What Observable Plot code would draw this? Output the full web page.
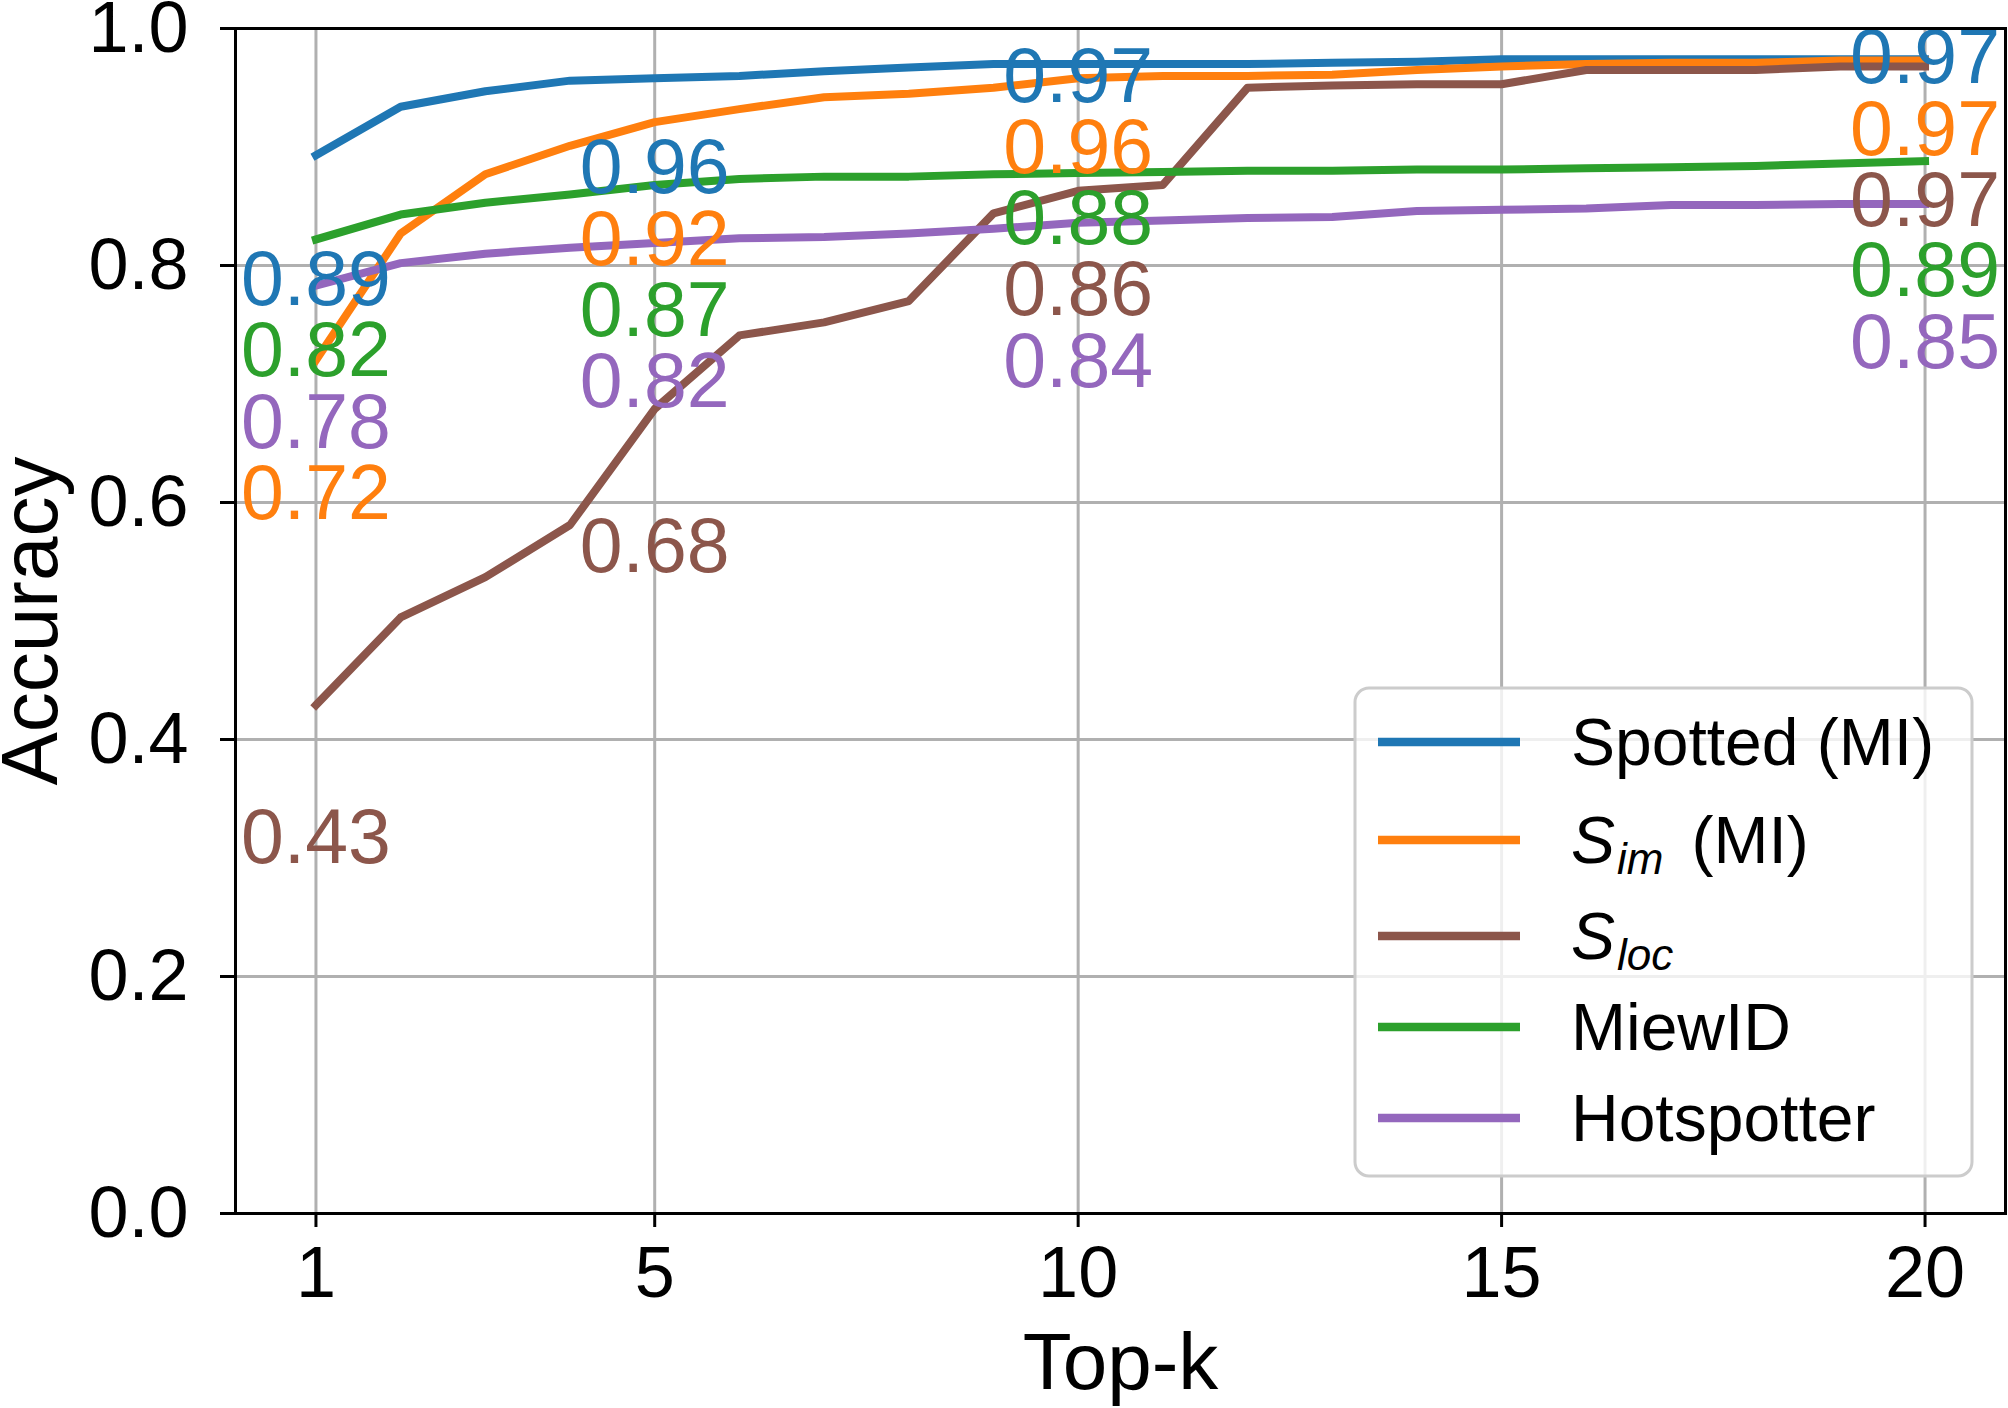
<!DOCTYPE html>
<html>
<head>
<meta charset="utf-8">
<script src="https://cdn.jsdelivr.net/npm/d3@7"></script>
<script src="https://cdn.jsdelivr.net/npm/@observablehq/plot@0.6"></script>
<style>
  html, body { margin: 0; padding: 0; background: #fff; }
  #chart { position: relative; width: 2008px; height: 1408px; }
</style>
</head>
<body>
<div id="chart"></div>
<script>
// Top-k re-identification accuracy for five matchers
const topK = [1, 2, 3, 4, 5, 6, 7, 8, 9, 10, 11, 12, 13, 14, 15, 16, 17, 18, 19, 20];

const spotted    = [0.893, 0.934, 0.947, 0.956, 0.958, 0.960, 0.964, 0.967, 0.970, 0.970,
                    0.970, 0.970, 0.971, 0.972, 0.974, 0.974, 0.974, 0.974, 0.974, 0.974];
const sIm        = [0.720, 0.827, 0.877, 0.901, 0.921, 0.932, 0.942, 0.945, 0.950, 0.958,
                    0.960, 0.960, 0.961, 0.965, 0.968, 0.970, 0.971, 0.971, 0.973, 0.973];
const sLoc       = [0.429, 0.503, 0.537, 0.581, 0.679, 0.741, 0.752, 0.770, 0.844, 0.863,
                    0.868, 0.950, 0.952, 0.953, 0.953, 0.965, 0.965, 0.965, 0.968, 0.968];
const miewID     = [0.822, 0.843, 0.853, 0.860, 0.868, 0.873, 0.875, 0.875, 0.877, 0.878,
                    0.879, 0.880, 0.880, 0.881, 0.881, 0.882, 0.883, 0.884, 0.886, 0.888];
const hotspotter = [0.783, 0.802, 0.810, 0.815, 0.819, 0.823, 0.824, 0.827, 0.831, 0.836,
                    0.838, 0.840, 0.841, 0.846, 0.847, 0.848, 0.851, 0.851, 0.852, 0.852];

const seriesNames  = ["Spotted (MI)", "S_im (MI)", "S_loc", "MiewID", "Hotspotter"];
const seriesValues = [spotted, sIm, sLoc, miewID, hotspotter];
const seriesColors = ["#1f77b4", "#ff7f0e", "#8c564b", "#2ca02c", "#9467bd"];

// k values that carry a value annotation
const labelledK = [1, 5, 10, 20];
const xTicks = [1, 5, 10, 15, 20];
const yTicks = [0, 0.2, 0.4, 0.6, 0.8, 1.0];

// Vertical pixel shift of each annotation below its point (per series, per labelled k)
const labelShift = [
  [125, 90, 13, -1],
  [134, 118, 70, 70],
  [133, 138, 100, 135],
  [112, 126, 46, 110],
  [138, 139, 140, 139]
];

// Long-format rows for the line mark
const rows = seriesNames.flatMap((name, i) =>
  topK.map((k, j) => ({ series: name, k, acc: seriesValues[i][j] })));

// Annotation marks, one per label (each has its own offset)
const fmt = d3.format(".2f");
const labelMarks = seriesNames.flatMap((name, i) =>
  labelledK.map((k, j) => {
    const acc = seriesValues[i][topK.indexOf(k)];
    return Plot.text([{ series: name, k, acc }], {
      x: "k", y: "acc", text: d => fmt(d.acc), fill: "series",
      fontSize: 77, textAnchor: "middle", lineAnchor: "middle",
      dy: labelShift[i][j]
    });
  }));

const plot = Plot.plot({
  width: 2008,
  height: 1408,
  marginLeft: 235,
  marginRight: 3,
  marginTop: 28,
  marginBottom: 195,
  style: { fontFamily: "'Liberation Sans', Arial, sans-serif", background: "#fff", overflow: "visible" },
  x: { domain: [0.05, 20.95] },
  y: { domain: [0, 1] },
  color: { domain: seriesNames, range: seriesColors },
  marks: [
    Plot.gridX(xTicks, { stroke: "#b0b0b0", strokeOpacity: 1, strokeWidth: 3 }),
    Plot.gridY(yTicks, { stroke: "#b0b0b0", strokeOpacity: 1, strokeWidth: 3 }),
    Plot.line(rows, { x: "k", y: "acc", z: "series", stroke: "series", strokeWidth: 8,
                      strokeLinecap: "square", strokeLinejoin: "round" }),
    ...labelMarks,
    Plot.frame({ stroke: "#000", strokeWidth: 3 }),
    Plot.axisX({ ticks: xTicks, tickFormat: d => String(d), tickSize: 14, tickPadding: 18,
                 strokeWidth: 3, fontSize: 72, label: null, color: "#000" }),
    Plot.axisY({ ticks: yTicks, tickFormat: d3.format(".1f"), tickSize: 15, tickPadding: 32,
                 strokeWidth: 3, fontSize: 72, label: null, color: "#000" }),
    Plot.text(["Top-k"], { frameAnchor: "bottom", text: d => d, fontSize: 80,
                           textAnchor: "middle", lineAnchor: "middle", dy: 150, fill: "#000" }),
    Plot.text(["Accuracy"], { frameAnchor: "left", text: d => d, fontSize: 80, rotate: -90,
                              textAnchor: "middle", lineAnchor: "middle", dx: -204, fill: "#000" })
  ]
});

document.getElementById("chart").appendChild(plot);

// Legend box in the lower right of the frame
const svg = d3.select(plot);
const legend = svg.append("g")
  .attr("font-family", "'Liberation Sans', Arial, sans-serif")
  .attr("text-anchor", "start");
legend.append("rect")
  .attr("x", 1355).attr("y", 688).attr("width", 617).attr("height", 488)
  .attr("rx", 14).attr("ry", 14)
  .attr("fill", "#fff").attr("fill-opacity", 0.8)
  .attr("stroke", "#cccccc").attr("stroke-width", 3);

const rowY = [742, 840, 936, 1027, 1118];
seriesNames.forEach((name, i) => {
  const cy = rowY[i];
  legend.append("line")
    .attr("x1", 1378).attr("x2", 1520).attr("y1", cy).attr("y2", cy)
    .attr("stroke", seriesColors[i]).attr("stroke-width", 8.3);
  const t = legend.append("text")
    .attr("x", 1571).attr("y", cy + 23)
    .attr("font-size", 66).attr("fill", "#000");
  if (name.startsWith("S_")) {
    const rest = name.slice(2).split(" ");
    t.append("tspan").attr("font-style", "italic").text("S");
    t.append("tspan").attr("font-style", "italic").attr("font-size", 44)
      .attr("dx", 2).attr("dy", 11).text(rest[0]);
    if (rest.length > 1) {
      t.append("tspan").attr("dy", -11).attr("dx", 28).text(rest.slice(1).join(" "));
    }
  } else {
    t.text(name);
  }
});
</script>
</body>
</html>
